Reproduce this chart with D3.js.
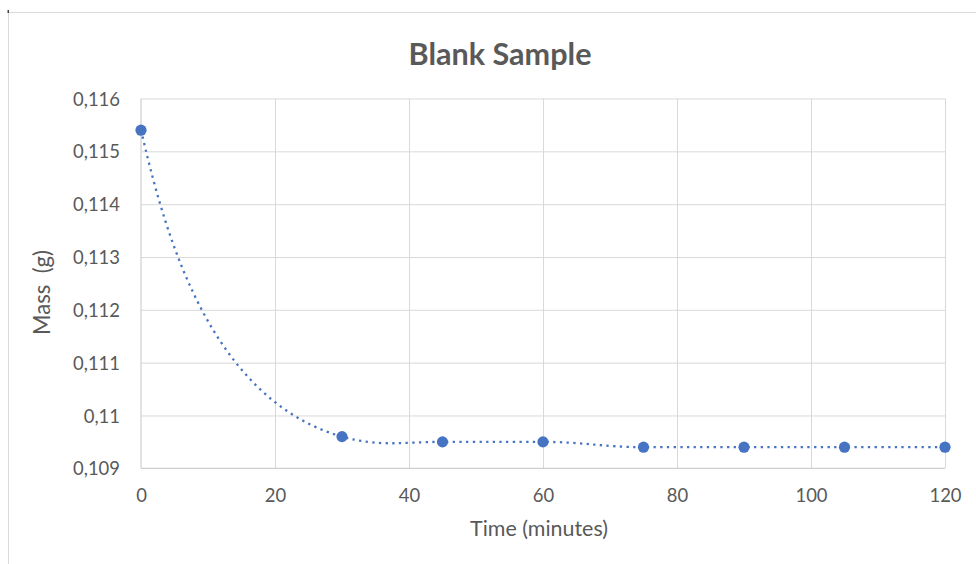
<!DOCTYPE html>
<html>
<head>
<meta charset="utf-8">
<script src="https://cdn.jsdelivr.net/npm/d3@7"></script>
<style>
  body { margin: 0; background: #fff; }
  svg text { font-family: Lato, "Open Sans", sans-serif; fill: #595959; }
</style>
</head>
<body>
<svg id="chart" width="976" height="564"></svg>
<script>
// ---- data ----
const times  = [0, 30, 45, 60, 75, 90, 105, 120];
const masses = [0.1154, 0.1096, 0.1095, 0.1095, 0.1094, 0.1094, 0.1094, 0.1094];
const xTicks = [0, 20, 40, 60, 80, 100, 120];
const yTicks = [0.109, 0.110, 0.111, 0.112, 0.113, 0.114, 0.115, 0.116];
const chartTitle = "Blank Sample";
const xTitle = "Time (minutes)";
const yTitle = "Mass  (g)";

(function () {
// ---- layout ----
const svg = d3.select("#chart");
const pL = 141, pR = 945, pT = 98.5, pB = 468.3;
const x = d3.scaleLinear().domain([0, 120]).range([pL, pR]);
const y = d3.scaleLinear().domain([0.109, 0.116]).range([pB, pT]);
const fmt = d3.formatLocale({decimal: ",", thousands: ".", grouping: [3], currency: ["", ""]}).format("~g");
const blue = "#4674C2";

// chart frame (partial, as in the screenshot)
svg.append("line").attr("x1", 8.5).attr("x2", 976).attr("y1", 12.5).attr("y2", 12.5)
  .attr("stroke", "#d9d9d9").attr("stroke-width", 1);
svg.append("line").attr("x1", 8.5).attr("x2", 8.5).attr("y1", 12.5).attr("y2", 564)
  .attr("stroke", "#d9d9d9").attr("stroke-width", 1);
svg.append("rect").attr("x", 7.5).attr("y", 10).attr("width", 1.5).attr("height", 3).attr("fill", "#444");

// gridlines
svg.append("g").attr("transform", `translate(0,${pB})`)
  .call(d3.axisBottom(x).tickValues(xTicks.filter(t => t > 0)).tickSize(-(pB - pT)).tickFormat(""))
  .call(g => g.select(".domain").remove())
  .call(g => g.selectAll(".tick line").attr("stroke", "#d9d9d9").attr("stroke-width", 1));
svg.append("g").attr("transform", `translate(${pL},0)`)
  .call(d3.axisLeft(y).tickValues(yTicks.filter(t => t > 0.109)).tickSize(-(pR - pL)).tickFormat(""))
  .call(g => g.select(".domain").remove())
  .call(g => g.selectAll(".tick line").attr("stroke", "#d9d9d9").attr("stroke-width", 1));

// axis lines
svg.append("line").attr("x1", pL).attr("x2", pR).attr("y1", pB).attr("y2", pB)
  .attr("stroke", "#cfcfcf").attr("stroke-width", 1.2);
svg.append("line").attr("x1", pL).attr("x2", pL).attr("y1", pT).attr("y2", pB)
  .attr("stroke", "#cfcfcf").attr("stroke-width", 1.2);

// tick labels
const yAx = svg.append("g").attr("transform", `translate(${pL},0)`)
  .call(d3.axisLeft(y).tickValues(yTicks).tickFormat(fmt).tickSize(0).tickPadding(21))
  .call(g => g.select(".domain").remove());
const xAx = svg.append("g").attr("transform", `translate(0,${pB})`)
  .call(d3.axisBottom(x).tickValues(xTicks).tickFormat(d3.format("d")).tickSize(0))
  .call(g => g.select(".domain").remove());

// fit tick font size so that "0,116" is about 47px wide
const allTicks = svg.selectAll(".tick text").attr("font-size", 20).attr("font-family", null);
let maxW = 0;
yAx.selectAll(".tick text").each(function () { maxW = Math.max(maxW, this.getComputedTextLength()); });
const tickFs = 20 * 47 / maxW;
allTicks.attr("font-size", tickFs).style("fill", "#595959");
yAx.selectAll(".tick text").attr("dy", "0.36em");
xAx.selectAll(".tick text").attr("dy", 0).attr("y", 501.7 - pB);

function fitText(sel, targetW) {
  sel.attr("font-size", 20);
  const w = sel.node().getComputedTextLength();
  sel.attr("font-size", 20 * targetW / w);
  return sel;
}

// titles
fitText(svg.append("text").attr("x", 500).attr("y", 65).attr("text-anchor", "middle")
  .attr("font-weight", "bold").text(chartTitle), 183);
fitText(svg.append("text").attr("x", 539).attr("y", 536).attr("text-anchor", "middle")
  .text(xTitle), 138);
fitText(svg.append("text").attr("transform", "translate(50,292.5) rotate(-90)")
  .attr("text-anchor", "middle").style("white-space", "pre").text(yTitle), 85);

// Excel-like smoothed curve
function ExcelSmooth(context) { this._context = context; }
ExcelSmooth.prototype = {
  areaStart() {}, areaEnd() {},
  lineStart() { this._px = []; this._py = []; },
  point(px, py) { this._px.push(+px); this._py.push(+py); },
  lineEnd() {
    const X = this._px, Y = this._py, n = X.length, c = this._context;
    if (!n) return;
    c.moveTo(X[0], Y[0]);
    if (n === 1) return;
    const s = [], d = [];
    for (let i = 0; i < n - 1; i++) {
      s.push((Y[i + 1] - Y[i]) / (X[i + 1] - X[i]));
      d.push(Math.hypot(X[i + 1] - X[i], Y[i + 1] - Y[i]));
    }
    const m = X.map((_, i) => {
      if (i === 0 || i === n - 1) return null;
      const p = s[i - 1] * s[i];
      return p <= 0 ? 0 : Math.sign(s[i]) * Math.sqrt(p);
    });
    const unit = sl => { const l = Math.hypot(1, sl); return [1 / l, sl / l]; };
    const k = 0.39;
    for (let i = 0; i < n - 1; i++) {
      let c1 = null, c2 = null;
      if (i > 0) { const u = unit(m[i]); c1 = [X[i] + u[0] * k * d[i], Y[i] + u[1] * k * d[i]]; }
      if (i + 1 < n - 1) { const u = unit(m[i + 1]); c2 = [X[i + 1] - u[0] * k * d[i], Y[i + 1] - u[1] * k * d[i]]; }
      if (!c1 && !c2) {
        c1 = [X[i] + (X[i + 1] - X[i]) / 3, Y[i] + (Y[i + 1] - Y[i]) / 3];
        c2 = [X[i + 1] - (X[i + 1] - X[i]) / 3, Y[i + 1] - (Y[i + 1] - Y[i]) / 3];
      } else if (!c1) {
        c1 = [X[i] + (c2[0] - X[i]) / 3, Y[i] + (c2[1] - Y[i]) / 3];
      } else if (!c2) {
        c2 = [X[i + 1] + (c1[0] - X[i + 1]) / 3, Y[i + 1] + (c1[1] - Y[i + 1]) / 3];
      }
      c.bezierCurveTo(c1[0], c1[1], c2[0], c2[1], X[i + 1], Y[i + 1]);
    }
  }
};
const excelSmooth = ctx => new ExcelSmooth(ctx);

const data = times.map((t, i) => ({t, m: masses[i]}));
svg.append("path").datum(data)
  .attr("d", d3.line().x(d => x(d.t)).y(d => y(d.m)).curve(excelSmooth))
  .attr("fill", "none").attr("stroke", blue).attr("stroke-width", 2.3)
  .attr("stroke-dasharray", "2.3 4.4");

svg.append("g").selectAll("circle").data(data).join("circle")
  .attr("cx", d => x(d.t)).attr("cy", d => y(d.m)).attr("r", 5.6).attr("fill", blue);
})();
</script>
</body>
</html>
